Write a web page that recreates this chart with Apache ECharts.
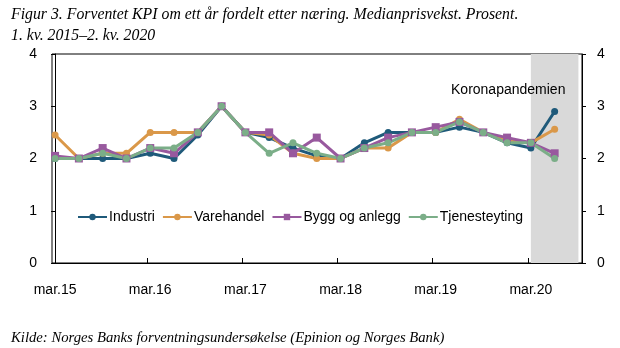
<!DOCTYPE html>
<html>
<head>
<meta charset="utf-8">
<script src="https://cdn.jsdelivr.net/npm/echarts@6/dist/echarts.min.js"></script>
<style>
  html, body { margin: 0; padding: 0; background: #fff; }
  #chart { width: 620px; height: 348px; }
</style>
</head>
<body>
<div id="chart"></div>
<script>
// Quarters 1. kv. 2015 – 2. kv. 2020
const quarters = ['1.kv.15','2.kv.15','3.kv.15','4.kv.15','1.kv.16','2.kv.16','3.kv.16','4.kv.16',
  '1.kv.17','2.kv.17','3.kv.17','4.kv.17','1.kv.18','2.kv.18','3.kv.18','4.kv.18',
  '1.kv.19','2.kv.19','3.kv.19','4.kv.19','1.kv.20','2.kv.20'];
const tickLabels = ['mar.15', 'mar.16', 'mar.17', 'mar.18', 'mar.19', 'mar.20'];
const tickQuarterIdx = [0, 4, 8, 12, 16, 20];

const industri     = [2.0, 2.0, 2.0, 2.0, 2.1, 2.0, 2.45, 3.0, 2.5, 2.4, 2.2, 2.05, 2.0, 2.3, 2.5, 2.5, 2.5, 2.6, 2.5, 2.3, 2.2, 2.9];
const varehandel   = [2.45, 2.0, 2.1, 2.1, 2.5, 2.5, 2.5, 3.0, 2.5, 2.45, 2.1, 2.0, 2.0, 2.2, 2.2, 2.5, 2.5, 2.75, 2.5, 2.35, 2.3, 2.56];
const byggAnlegg   = [2.05, 2.0, 2.2, 2.0, 2.2, 2.1, 2.5, 3.0, 2.5, 2.5, 2.1, 2.4, 2.0, 2.2, 2.4, 2.5, 2.6, 2.7, 2.5, 2.4, 2.3, 2.1];
const tjenesteyting= [2.0, 2.0, 2.1, 2.0, 2.2, 2.2, 2.5, 3.0, 2.5, 2.1, 2.3, 2.1, 2.0, 2.2, 2.3, 2.5, 2.5, 2.7, 2.5, 2.3, 2.3, 2.0];

// Shaded period: from 1. kv. 2020 to the end of the survey
const coronaStart = 20;
const coronaEnd = 22;
const coronaLabel = 'Koronapandemien';

const colors = ['#1F5A7A', '#DA9849', '#98599E', '#7BAE88'];
const axisFont = { fontFamily: 'Liberation Sans, Arial, sans-serif', fontSize: 14, color: '#000' };
const xOffset = 0.13;   // small gap between left axis and the first observation

const toXY = arr => arr.map((v, i) => [i, v]);

function lineSeries(name, data, color, symbol, size) {
  return {
    name, type: 'line', data: toXY(data),
    symbol, symbolSize: size, showSymbol: true,
    lineStyle: { width: 3, color },
    itemStyle: { color },
    emphasis: { disabled: true },
    animation: false,
    z: 3
  };
}

const series = [
  lineSeries('Industri', industri, colors[0], 'circle', 7),
  lineSeries('Varehandel', varehandel, colors[1], 'circle', 7),
  lineSeries('Bygg og anlegg', byggAnlegg, colors[2], 'rect', 8),
  lineSeries('Tjenesteyting', tjenesteyting, colors[3], 'circle', 7)
];
series[0].markArea = {
  silent: true,
  itemStyle: { color: '#D9D9D9' },
  label: {
    show: true, position: 'insideTopRight', offset: [-8, 24],
    formatter: coronaLabel,
    fontFamily: 'Liberation Sans, Arial, sans-serif', fontSize: 14, color: '#000'
  },
  data: [[{ xAxis: coronaStart }, { xAxis: coronaEnd }]]
};

const chart = echarts.init(document.getElementById('chart'), null, { renderer: 'canvas' });
chart.setOption({
  animation: false,
  title: [
    {
      text: 'Figur 3. Forventet KPI om ett år fordelt etter næring. Medianprisvekst. Prosent.\n1. kv. 2015–2. kv. 2020',
      left: 6, top: -1,
      textStyle: { fontFamily: 'Liberation Serif, Times New Roman, serif', fontStyle: 'italic', fontWeight: 'normal', fontSize: 15.8, lineHeight: 21, color: '#000' }
    },
    {
      text: 'Kilde: Norges Banks forventningsundersøkelse (Epinion og Norges Bank)',
      left: 6, top: 326,
      textStyle: { fontFamily: 'Liberation Serif, Times New Roman, serif', fontStyle: 'italic', fontWeight: 'normal', fontSize: 14.7, color: '#000' }
    }
  ],
  legend: {
    left: 72, top: 205,
    itemWidth: 29, itemHeight: 8, itemGap: 7,
    textStyle: { fontFamily: 'Liberation Sans, Arial, sans-serif', fontSize: 14, color: '#000', padding: [0, 0, 0, -3] },
    data: ['Industri', 'Varehandel', 'Bygg og anlegg', 'Tjenesteyting']
  },
  grid: { left: 52, right: 38, top: 54, bottom: 85, show: true, borderColor: '#000', borderWidth: 1, containLabel: false },
  xAxis: {
    type: 'value', min: -xOffset, max: 22.15,
    splitLine: { show: false },
    axisLine: { show: true, lineStyle: { color: '#000', width: 1 } },
    axisTick: {
      show: true, inside: true, length: 5, lineStyle: { color: '#000' },
      customValues: tickQuarterIdx.slice(1).map(i => i - xOffset)
    },
    axisLabel: {
      ...axisFont, margin: 20,
      customValues: tickQuarterIdx,
      formatter: v => tickLabels[tickQuarterIdx.indexOf(Math.round(v))] || ''
    }
  },
  yAxis: [
    {
      type: 'value', min: 0, max: 4, interval: 1, position: 'left',
      splitLine: { show: false },
      axisLine: { show: true, lineStyle: { color: '#000' } },
      axisTick: { show: true, length: 4, lineStyle: { color: '#000' } },
      axisLabel: { ...axisFont, margin: 15 }
    },
    {
      type: 'value', min: 0, max: 4, interval: 1, position: 'right',
      splitLine: { show: false },
      axisLine: { show: true, lineStyle: { color: '#000' } },
      axisTick: { show: true, length: 4, lineStyle: { color: '#000' } },
      axisLabel: { ...axisFont, margin: 15 }
    }
  ],
  series
});
</script>
</body>
</html>
